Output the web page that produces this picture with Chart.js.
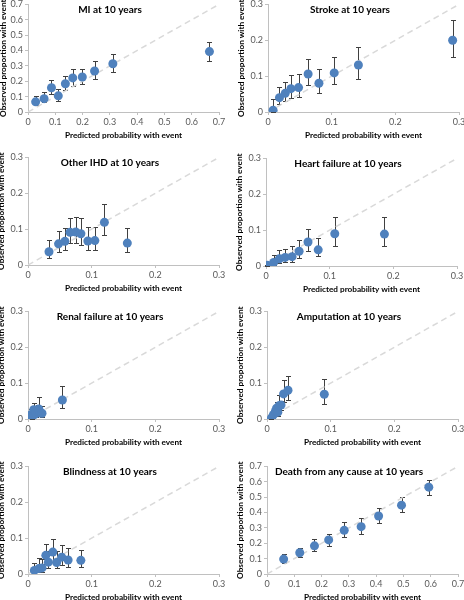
<!DOCTYPE html>
<html>
<head>
<meta charset="utf-8">
<script src="https://cdn.jsdelivr.net/npm/chart.js@4.4.1/dist/chart.umd.min.js"></script>
<style>
  html, body { margin: 0; padding: 0; background: #fff; }
  body { position: relative; width: 464px; height: 600px; overflow: hidden; }
  canvas { position: absolute; }
</style>
</head>
<body>
<script>
// tick labels
const ticks07 = [0, 0.1, 0.2, 0.3, 0.4, 0.5, 0.6, 0.7];
const ticks03 = [0, 0.1, 0.2, 0.3];

// MI
const miX  = [0.028, 0.059, 0.086, 0.111, 0.137, 0.164, 0.199, 0.244, 0.311, 0.665];
const miY  = [0.066, 0.087, 0.158, 0.105, 0.184, 0.222, 0.228, 0.267, 0.314, 0.393];
const miLo = [0.043, 0.068, 0.120, 0.073, 0.141, 0.171, 0.184, 0.216, 0.260, 0.333];
const miHi = [0.105, 0.132, 0.209, 0.149, 0.235, 0.280, 0.280, 0.329, 0.376, 0.455];

// Stroke
const strokeX  = [0.008, 0.018, 0.027, 0.036, 0.048, 0.063, 0.080, 0.104, 0.142, 0.290];
const strokeY  = [0.005, 0.040, 0.052, 0.065, 0.068, 0.106, 0.080, 0.109, 0.131, 0.200];
const strokeLo = [0.000, 0.022, 0.031, 0.040, 0.043, 0.074, 0.052, 0.077, 0.091, 0.154];
const strokeHi = [0.035, 0.070, 0.085, 0.102, 0.105, 0.149, 0.120, 0.153, 0.180, 0.257];

// Other IHD
const ihdX  = [0.033, 0.048, 0.058, 0.066, 0.075, 0.083, 0.094, 0.105, 0.120, 0.156];
const ihdY  = [0.037, 0.059, 0.066, 0.091, 0.092, 0.087, 0.067, 0.068, 0.119, 0.061];
const ihdLo = [0.020, 0.037, 0.042, 0.060, 0.062, 0.057, 0.042, 0.042, 0.083, 0.037];
const ihdHi = [0.069, 0.095, 0.102, 0.131, 0.134, 0.131, 0.107, 0.107, 0.169, 0.104];

// Heart failure
const hfX  = [0.002, 0.012, 0.021, 0.030, 0.041, 0.052, 0.066, 0.082, 0.108, 0.186];
const hfY  = [0.002, 0.010, 0.020, 0.024, 0.026, 0.041, 0.067, 0.045, 0.090, 0.089];
const hfLo = [0.000, 0.002, 0.009, 0.012, 0.012, 0.023, 0.041, 0.027, 0.057, 0.057];
const hfHi = [0.004, 0.032, 0.046, 0.048, 0.057, 0.073, 0.103, 0.079, 0.136, 0.136];

// Renal failure
const renalX  = [0.004, 0.007, 0.009, 0.011, 0.013, 0.015, 0.017, 0.019, 0.022, 0.054];
const renalY  = [0.011, 0.007, 0.026, 0.014, 0.016, 0.022, 0.028, 0.017, 0.016, 0.053];
const renalLo = [0.002, 0.001, 0.013, 0.005, 0.006, 0.011, 0.016, 0.007, 0.006, 0.031];
const renalHi = [0.028, 0.022, 0.045, 0.034, 0.036, 0.040, 0.061, 0.037, 0.035, 0.091];

// Amputation
const ampX  = [0.007, 0.010, 0.013, 0.015, 0.017, 0.019, 0.022, 0.026, 0.033, 0.090];
const ampY  = [0.003, 0.012, 0.021, 0.030, 0.019, 0.037, 0.039, 0.070, 0.080, 0.069];
const ampLo = [0.000, 0.004, 0.010, 0.017, 0.009, 0.022, 0.025, 0.048, 0.053, 0.041];
const ampHi = [0.012, 0.024, 0.035, 0.048, 0.033, 0.066, 0.050, 0.110, 0.120, 0.112];

// Blindness
const blindX  = [0.010, 0.017, 0.022, 0.028, 0.032, 0.039, 0.045, 0.053, 0.063, 0.083];
const blindY  = [0.010, 0.015, 0.017, 0.052, 0.033, 0.061, 0.032, 0.047, 0.039, 0.038];
const blindLo = [0.002, 0.005, 0.006, 0.028, 0.017, 0.034, 0.017, 0.026, 0.020, 0.019];
const blindHi = [0.032, 0.044, 0.041, 0.083, 0.064, 0.098, 0.063, 0.081, 0.073, 0.067];

// Death from any cause
const deathX  = [0.061, 0.120, 0.174, 0.226, 0.283, 0.345, 0.409, 0.493, 0.593];
const deathY  = [0.097, 0.138, 0.183, 0.222, 0.284, 0.308, 0.377, 0.448, 0.565];
const deathLo = [0.071, 0.108, 0.147, 0.183, 0.241, 0.263, 0.330, 0.401, 0.515];
const deathHi = [0.127, 0.172, 0.226, 0.263, 0.336, 0.362, 0.427, 0.498, 0.614];

const panels = [
  { title: 'MI at 10 years', x: miX, y: miY, lo: miLo, hi: miHi, ticks: ticks07 },
  { title: 'Stroke at 10 years', x: strokeX, y: strokeY, lo: strokeLo, hi: strokeHi, ticks: ticks03 },
  { title: 'Other IHD at 10 years', x: ihdX, y: ihdY, lo: ihdLo, hi: ihdHi, ticks: ticks03 },
  { title: 'Heart failure at 10 years', x: hfX, y: hfY, lo: hfLo, hi: hfHi, ticks: ticks03 },
  { title: 'Renal failure at 10 years', x: renalX, y: renalY, lo: renalLo, hi: renalHi, ticks: ticks03 },
  { title: 'Amputation at 10 years', x: ampX, y: ampY, lo: ampLo, hi: ampHi, ticks: ticks03 },
  { title: 'Blindness at 10 years', x: blindX, y: blindY, lo: blindLo, hi: blindHi, ticks: ticks03 },
  { title: 'Death from any cause at 10 years', x: deathX, y: deathY, lo: deathLo, hi: deathHi, ticks: ticks07 }
];

// plot area left, top and y title padding for each panel
const panelPos = [
  [28, 3, 2], [267.5, 3, 0],
  [28, 156, 0], [265.5, 156.5, 0],
  [27.5, 310, 0], [267, 310, 0],
  [28, 464.5, 0], [266.5, 465, 0]
];

const FONT = 'Lato, "Liberation Sans", sans-serif';
Chart.defaults.font.family = FONT;

// vertical error bars with caps, drawn under the points
const errorBars = {
  id: 'errorBars',
  beforeDatasetsDraw(chart) {
    const { ctx, scales: { x, y } } = chart;
    const ds = chart.data.datasets[0];
    ctx.save();
    ctx.strokeStyle = '#404040';
    ctx.lineWidth = 1;
    ds.data.forEach((p, i) => {
      const px = Math.round(x.getPixelForValue(p.x)) + 0.5;
      const top = Math.round(y.getPixelForValue(ds.hi[i])) + 0.5;
      const bot = Math.round(y.getPixelForValue(ds.lo[i])) + 0.5;
      ctx.beginPath();
      ctx.moveTo(px, top); ctx.lineTo(px, bot);
      ctx.moveTo(px - 2.5, top); ctx.lineTo(px + 2.5, top);
      ctx.moveTo(px - 2.5, bot); ctx.lineTo(px + 2.5, bot);
      ctx.stroke();
    });
    ctx.restore();
  }
};

// title written inside the plot
const panelTitle = {
  id: 'panelTitle',
  afterDraw(chart, args, opts) {
    const { ctx, chartArea } = chart;
    ctx.save();
    ctx.font = 'bold 10px ' + FONT;
    ctx.fillStyle = '#000';
    ctx.textAlign = 'center';
    ctx.textBaseline = 'middle';
    ctx.fillText(opts.text, chartArea.left + 82, chartArea.top + 5);
    ctx.restore();
  }
};

function axis(ticks, text, pad) {
  return {
    type: 'linear',
    min: 0,
    max: ticks[ticks.length - 1],
    afterBuildTicks: s => { s.ticks = ticks.map(v => ({ value: v })); },
    ticks: { color: '#595959', font: { size: 9 }, padding: 2, autoSkip: false, maxRotation: 0, callback: v => String(v) },
    grid: { drawOnChartArea: false, tickLength: 3, color: '#c0c0c0' },
    border: { color: '#c0c0c0' },
    title: { display: true, text: text, color: '#000', font: { size: 8.2, weight: 'bold' }, padding: pad }
  };
}

panels.forEach((p, k) => {
  const pos = panelPos[k];
  const cv = document.createElement('canvas');
  cv.width = 237;
  cv.height = 153;
  cv.style.width = '237px';
  cv.style.height = '153px';
  cv.style.left = (pos[0] - 32) + 'px';
  cv.style.top = (pos[1] - 6) + 'px';
  document.body.appendChild(cv);

  const max = p.ticks[p.ticks.length - 1];
  const xAxis = axis(p.ticks, 'Predicted probability with event', { top: 0, bottom: 10 });
  xAxis.afterFit = s => { s.height = 38; };
  const yAxis = axis(p.ticks, 'Observed proportion with event', { top: pos[2], bottom: 0 });
  yAxis.afterFit = s => { s.width = 32; };

  new Chart(cv, {
    type: 'scatter',
    data: {
      datasets: [
        {
          data: p.x.map((v, i) => ({ x: v, y: p.y[i] })),
          lo: p.lo,
          hi: p.hi,
          backgroundColor: '#4f81bd',
          borderColor: '#4f81bd',
          borderWidth: 0,
          pointRadius: 4.5,
          order: 1
        },
        {
          type: 'line',
          data: [{ x: 0, y: 0 }, { x: max, y: max }],
          borderColor: '#d9d9d9',
          borderWidth: 1.5,
          borderDash: [6, 4],
          pointRadius: 0,
          order: 2
        }
      ]
    },
    options: {
      responsive: false,
      animation: false,
      events: [],
      layout: { padding: { left: 0, right: 14, top: 6, bottom: 0 } },
      plugins: {
        legend: { display: false },
        tooltip: { enabled: false },
        panelTitle: { text: p.title }
      },
      scales: { x: xAxis, y: yAxis }
    },
    plugins: [errorBars, panelTitle]
  });
});
</script>
</body>
</html>
